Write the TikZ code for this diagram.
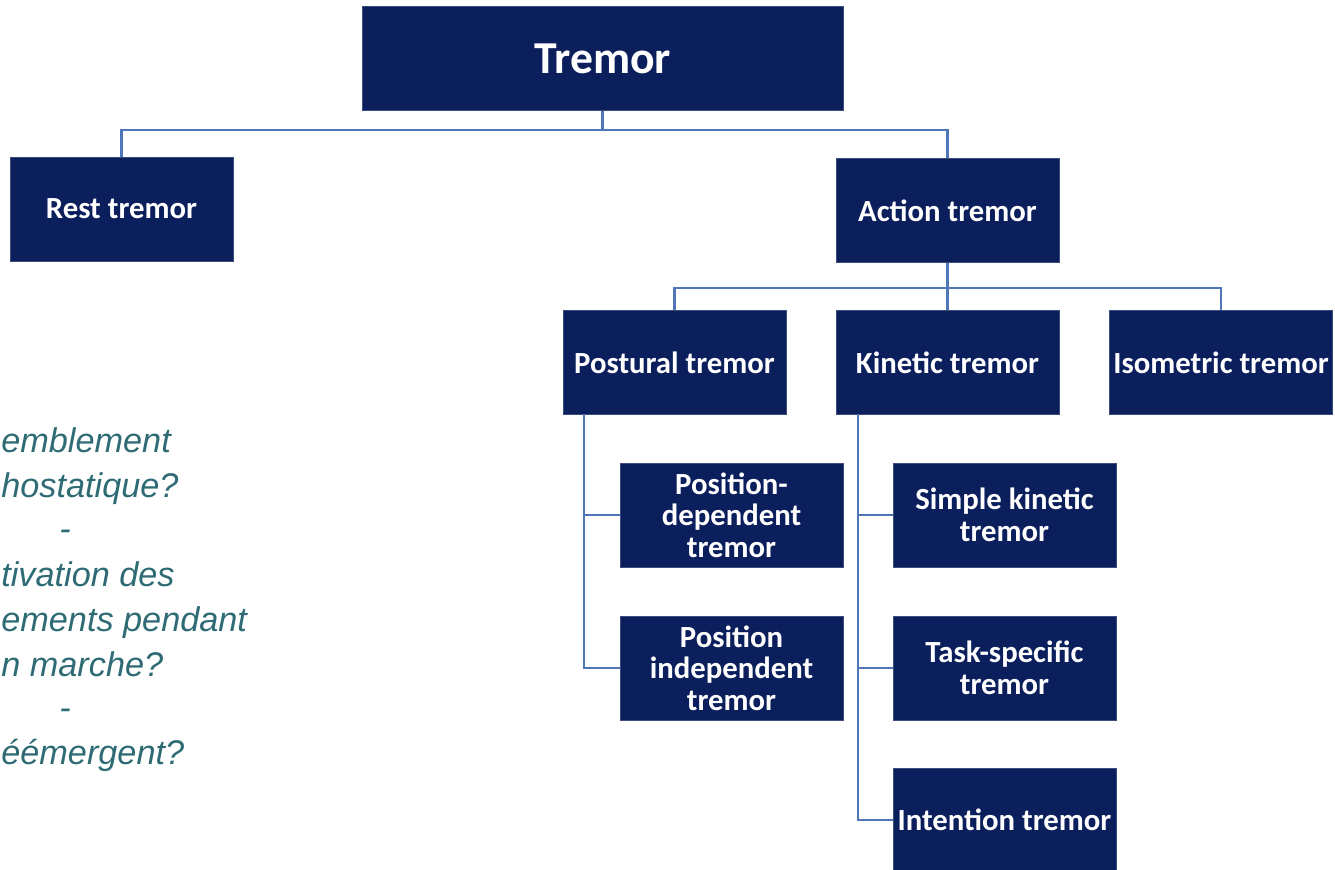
\documentclass[tikz,border=0pt]{standalone}
\usepackage{fontspec}
\setmainfont{Carlito}
\newfontfamily\notefont{Liberation Sans}
\usetikzlibrary{positioning}

\definecolor{boxblue}{HTML}{0B1F5C}
\definecolor{linkblue}{HTML}{4F76B8}
\definecolor{noteteal}{HTML}{2E6B74}

\begin{document}
\begin{tikzpicture}[x=0.02cm,y=-0.02cm,
      box/.style={fill=boxblue,draw=boxblue!80!white,text=white,
        font=\fontsize{17.5}{18}\selectfont\bfseries,align=center,
        minimum width=223*0.02cm,minimum height=104*0.02cm,inner sep=1pt},
      link/.style={draw=linkblue,line width=1.3pt},
      note/.style={text=noteteal,font=\notefont\fontsize{19.5}{21}\selectfont\itshape,
        anchor=base west,inner sep=0pt}]

      \useasboundingbox (0,0) rectangle (1335,869);
      \clip (0,0) rectangle (1335,869);

      % top levels
      \node[box,minimum width=481*0.02cm,font=\fontsize{26}{28}\selectfont\bfseries] (tremor) at (602.5,58.5) {Tremor};
      \node[box] (rest) at (121.5,209) {Rest tremor};
      \node[box] (action) at (947.5,210.5) {Action tremor};

      % action tremor branches
      \node[box] (postural) at (674.5,362.5) {Postural tremor};
      \node[box] (kinetic) at (947.5,362.5) {Kinetic tremor};
      \node[box] (isometric) at (1221,362.5) {Isometric tremor};

      \node[box] (posdep) at (731.5,515) {Position-\\dependent\\tremor};
      \node[box] (posindep) at (731.5,668) {Position\\independent\\tremor};
      \node[box] (simple) at (1004.5,515) {Simple kinetic\\tremor};
      \node[box] (task) at (1004.5,668) {Task-specific\\tremor};
      \node[box] (intention) at (1004.5,820) {Intention tremor};

      % connectors
      \coordinate (bus1) at (602.5,130);
      \coordinate (bus2) at (947.5,288);
      \coordinate (prail) at (584,414);
      \coordinate (krail) at (858,414);

      \draw[link] (tremor.south) -- (bus1);
      \draw[link] (rest.north) |- (bus1) -| (action.north);
      \draw[link] (action.south) -- (bus2);
      \draw[link] (postural.north) |- (bus2) -| (isometric.north);
      \draw[link] (bus2) -- (kinetic.north);

      \draw[link] (prail) |- (posindep.west);
      \draw[link] (prail |- posdep.west) -- (posdep.west);
      \draw[link] (krail) |- (intention.west);
      \draw[link] (krail |- simple.west) -- (simple.west);
      \draw[link] (krail |- task.west) -- (task.west);

      % questions on the left, against the edge
      \node[note] (q1) at (1,452) {emblement};
      \node[note] (q2) at (1,497) {hostatique?};
      \node[note,anchor=base] (q3) at (65,540) {-};
      \node[note] (q4) at (1,586) {tivation des};
      \node[note] (q5) at (1,631) {ements pendant};
      \node[note] (q6) at (1,676) {n marche?};
      \node[note,anchor=base] (q7) at (65,719) {-};
      \node[note] (q8) at (1,764) {éémergent?};
    \end{tikzpicture}
\end{document}
